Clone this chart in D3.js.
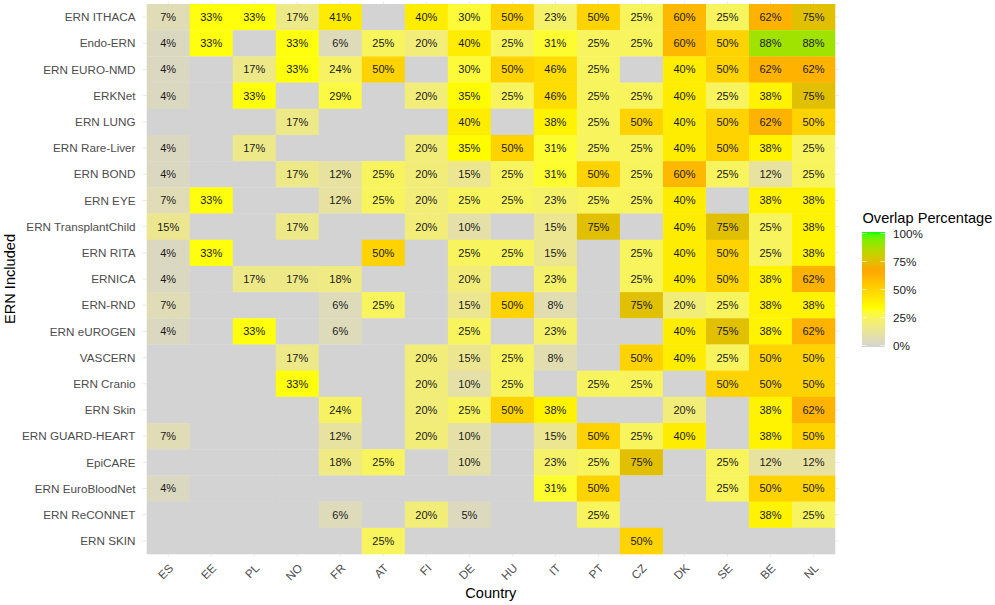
<!DOCTYPE html>
<html>
<head>
<meta charset="utf-8">
<script src="https://cdn.jsdelivr.net/npm/d3@7"></script>
<style>
  body { margin: 0; background: #fff; }
  svg { font-family: "Liberation Sans", Arial, sans-serif; }
</style>
</head>
<body>
<div id="chart"></div>
<script>
// Countries along the x axis
var countries = ["ES", "EE", "PL", "NO", "FR", "AT", "FI", "DE", "HU", "IT", "PT", "CZ", "DK", "SE", "BE", "NL"];

// ERNs along the y axis (top to bottom)
var erns = ["ERN ITHACA", "Endo-ERN", "ERN EURO-NMD", "ERKNet", "ERN LUNG", "ERN Rare-Liver",
  "ERN BOND", "ERN EYE", "ERN TransplantChild", "ERN RITA", "ERNICA", "ERN-RND", "ERN eUROGEN",
  "VASCERN", "ERN Cranio", "ERN Skin", "ERN GUARD-HEART", "EpiCARE", "ERN EuroBloodNet",
  "ERN ReCONNET", "ERN SKIN"];

// Overlap percentage, one row per ERN, one value per country (null = none)
var overlap = [
  [7, 33, 33, 17, 41, null, 40, 30, 50, 23, 50, 25, 60, 25, 62, 75],
  [4, 33, null, 33, 6, 25, 20, 40, 25, 31, 25, 25, 60, 50, 88, 88],
  [4, null, 17, 33, 24, 50, null, 30, 50, 46, 25, null, 40, 50, 62, 62],
  [4, null, 33, null, 29, null, 20, 35, 25, 46, 25, 25, 40, 25, 38, 75],
  [null, null, null, 17, null, null, null, 40, null, 38, 25, 50, 40, 50, 62, 50],
  [4, null, 17, null, null, null, 20, 35, 50, 31, 25, 25, 40, 50, 38, 25],
  [4, null, null, 17, 12, 25, 20, 15, 25, 31, 50, 25, 60, 25, 12, 25],
  [7, 33, null, null, 12, 25, 20, 25, 25, 23, 25, 25, 40, null, 38, 38],
  [15, null, null, 17, null, null, 20, 10, null, 15, 75, null, 40, 75, 25, 38],
  [4, 33, null, null, null, 50, null, 25, 25, 15, null, 25, 40, 50, 25, 38],
  [4, null, 17, 17, 18, null, null, 20, null, 23, null, 25, 40, 50, 38, 62],
  [7, null, null, null, 6, 25, null, 15, 50, 8, null, 75, 20, 25, 38, 38],
  [4, null, 33, null, 6, null, null, 25, null, 23, null, null, 40, 75, 38, 62],
  [null, null, null, 17, null, null, 20, 15, 25, 8, null, 50, 40, 25, 50, 50],
  [null, null, null, 33, null, null, 20, 10, 25, null, 25, 25, null, 50, 50, 50],
  [null, null, null, null, 24, null, 20, 25, 50, 38, null, null, 20, null, 38, 62],
  [7, null, null, null, 12, null, 20, 10, null, 15, 50, 25, 40, null, 38, 50],
  [null, null, null, null, 18, 25, null, 10, null, 23, 25, 75, null, 25, 12, 12],
  [4, null, null, null, null, null, null, null, null, 31, 50, null, null, 25, 50, 50],
  [null, null, null, null, 6, null, 20, 5, null, null, 25, null, null, null, 38, 25],
  [null, null, null, null, null, 25, null, null, null, null, null, 50, null, null, null, null]
];

// Legend ticks
var legendTicks = [0, 25, 50, 75, 100];

var width = 995;
var height = 605;

// Panel (tile area) boundaries
var panelLeft = 146.7, panelRight = 835, panelTop = 4, panelBottom = 554;

var svg = d3.select("#chart")
  .append("svg")
  .attr("width", width)
  .attr("height", height);

var x = d3.scaleBand().domain(countries).range([panelLeft, panelRight]);
var y = d3.scaleBand().domain(erns).range([panelTop, panelBottom]);

// lightgrey -> yellow -> orange -> green, interpolated in Lab like ggplot
var color = d3.scaleLinear()
  .domain([0, 100 / 3, 200 / 3, 100])
  .range(["#D3D3D3", "#FFFF00", "#FFA500", "#00FF00"])
  .interpolate(d3.interpolateLab);

// Flatten to cells
var cells = [];
erns.forEach(function (ern, i) {
  countries.forEach(function (c, j) {
    cells.push({ ern: ern, country: c, value: overlap[i][j] });
  });
});

// Grid lines (only visible in the small expansion margin)
var padX = x.bandwidth() * 0.1, padY = y.bandwidth() * 0.1;
svg.append("g").selectAll("line")
  .data(countries)
  .enter().append("line")
  .attr("x1", function (d) { return x(d) + x.bandwidth() / 2; })
  .attr("x2", function (d) { return x(d) + x.bandwidth() / 2; })
  .attr("y1", panelTop - padY)
  .attr("y2", panelBottom + padY)
  .attr("stroke", "#EBEBEB")
  .attr("stroke-width", 1);
svg.append("g").selectAll("line")
  .data(erns)
  .enter().append("line")
  .attr("y1", function (d) { return y(d) + y.bandwidth() / 2; })
  .attr("y2", function (d) { return y(d) + y.bandwidth() / 2; })
  .attr("x1", panelLeft - padX)
  .attr("x2", panelRight + padX)
  .attr("stroke", "#EBEBEB")
  .attr("stroke-width", 1);

// Tiles
svg.append("g").selectAll("rect")
  .data(cells)
  .enter().append("rect")
  .attr("x", function (d) { return x(d.country); })
  .attr("y", function (d) { return y(d.ern); })
  .attr("width", x.bandwidth() + 0.3)
  .attr("height", y.bandwidth() + 0.3)
  .attr("fill", function (d) { return d.value == null ? "#D3D3D3" : color(d.value); });

// Tile labels
svg.append("g").selectAll("text")
  .data(cells.filter(function (d) { return d.value != null; }))
  .enter().append("text")
  .attr("x", function (d) { return x(d.country) + x.bandwidth() / 2; })
  .attr("y", function (d) { return y(d.ern) + y.bandwidth() / 2; })
  .attr("dy", "0.36em")
  .attr("text-anchor", "middle")
  .attr("font-size", "11px")
  .attr("fill", "#1a1a1a")
  .text(function (d) { return d.value + "%"; });

// Y axis labels
svg.append("g").selectAll("text")
  .data(erns)
  .enter().append("text")
  .attr("x", 135.5)
  .attr("y", function (d) { return y(d) + y.bandwidth() / 2; })
  .attr("dy", "0.36em")
  .attr("text-anchor", "end")
  .attr("font-size", "11.7px")
  .attr("fill", "#4D4D4D")
  .text(function (d) { return d; });

// X axis labels (rotated 45)
svg.append("g").selectAll("text")
  .data(countries)
  .enter().append("text")
  .attr("transform", function (d) {
    return "translate(" + (x(d) + x.bandwidth() / 2) + "," + 563 + ") rotate(-45)";
  })
  .attr("dy", "0.71em")
  .attr("text-anchor", "end")
  .attr("font-size", "11.7px")
  .attr("fill", "#4D4D4D")
  .text(function (d) { return d; });

// Axis titles
svg.append("text")
  .attr("x", (panelLeft + panelRight) / 2)
  .attr("y", 598)
  .attr("text-anchor", "middle")
  .attr("font-size", "14.6px")
  .attr("fill", "#000")
  .text("Country");

svg.append("text")
  .attr("transform", "translate(15," + (panelTop + panelBottom) / 2 + ") rotate(-90)")
  .attr("text-anchor", "middle")
  .attr("font-size", "14.6px")
  .attr("fill", "#000")
  .text("ERN Included");

// Legend
var legX = 862, legW = 23, legTop = 232, legBottom = 347;
var legScale = d3.scaleLinear().domain([0, 100]).range([legBottom - 1.5, legTop + 1.5]);

var defs = svg.append("defs");
var grad = defs.append("linearGradient")
  .attr("id", "legend-grad")
  .attr("x1", 0).attr("y1", 1)
  .attr("x2", 0).attr("y2", 0);
d3.range(0, 101, 2).forEach(function (v) {
  grad.append("stop")
    .attr("offset", v + "%")
    .attr("stop-color", color(v));
});

svg.append("text")
  .attr("x", 862.5)
  .attr("y", 223)
  .attr("font-size", "14.6px")
  .attr("fill", "#000")
  .text("Overlap Percentage");

svg.append("rect")
  .attr("x", legX)
  .attr("y", legTop)
  .attr("width", legW)
  .attr("height", legBottom - legTop)
  .attr("fill", "url(#legend-grad)");

// Legend tick marks
var tickG = svg.append("g");
legendTicks.forEach(function (t) {
  tickG.append("line")
    .attr("x1", legX).attr("x2", legX + legW / 5)
    .attr("y1", legScale(t)).attr("y2", legScale(t))
    .attr("stroke", "#fff").attr("stroke-width", 0.8).attr("opacity", 0.8);
  tickG.append("line")
    .attr("x1", legX + legW - legW / 5).attr("x2", legX + legW)
    .attr("y1", legScale(t)).attr("y2", legScale(t))
    .attr("stroke", "#fff").attr("stroke-width", 0.8).attr("opacity", 0.8);
});

svg.append("g").selectAll("text")
  .data(legendTicks)
  .enter().append("text")
  .attr("x", 893)
  .attr("y", function (d) { return legScale(d); })
  .attr("dy", "0.36em")
  .attr("font-size", "11.7px")
  .attr("fill", "#1a1a1a")
  .text(function (d) { return d + "%"; });
</script>
</body>
</html>
